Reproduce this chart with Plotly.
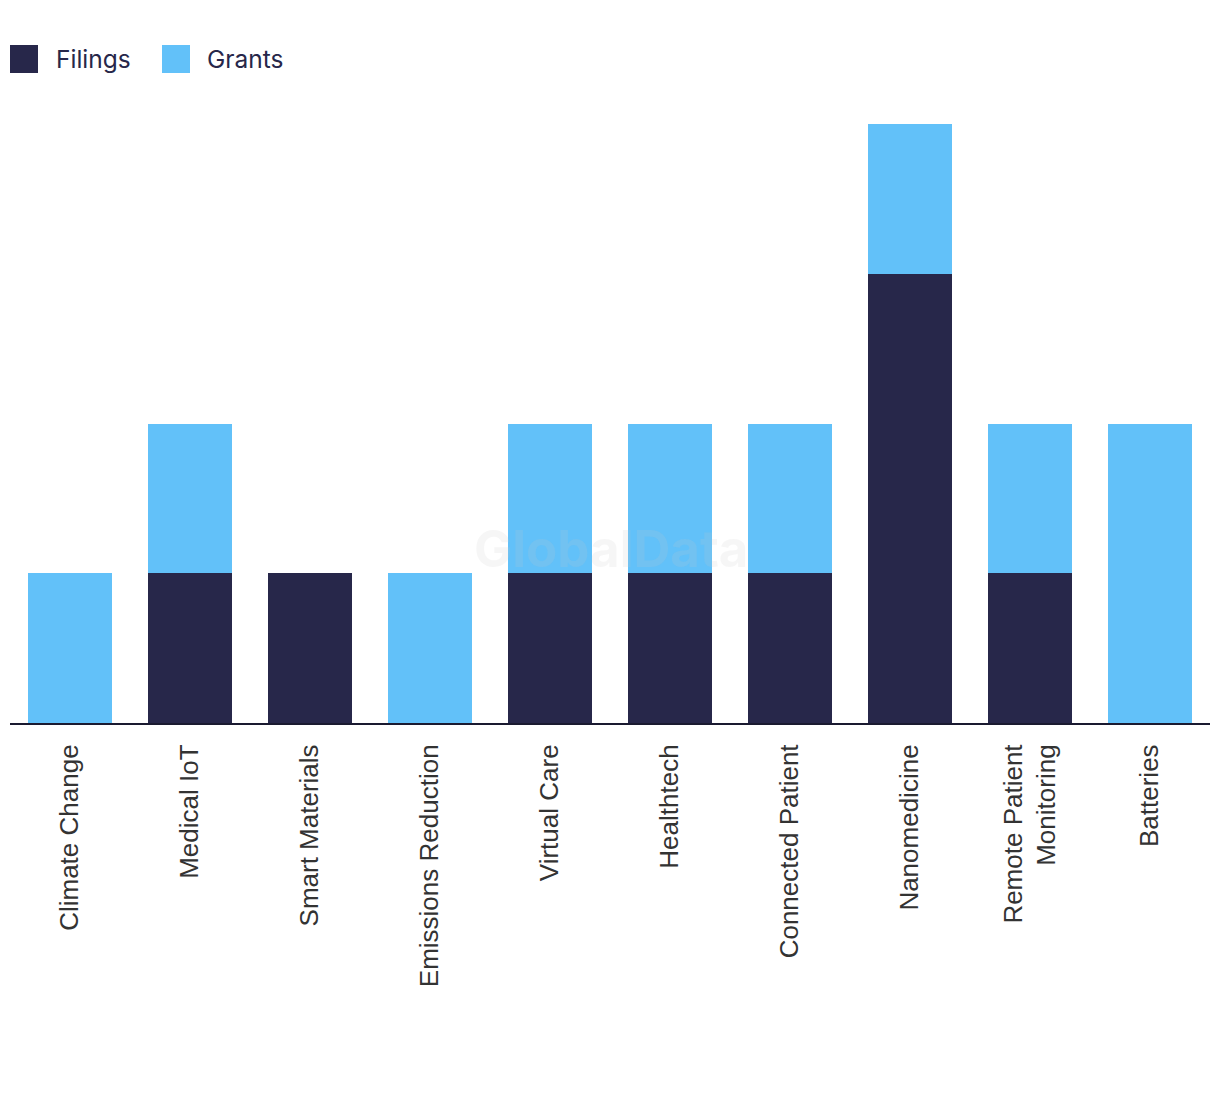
import plotly.graph_objects as go

categories = ["Climate Change", "Medical IoT", "Smart Materials", "Emissions Reduction",
              "Virtual Care", "Healthtech", "Connected Patient", "Nanomedicine",
              "Remote Patient<br>Monitoring", "Batteries"]
filings = [0, 1, 1, 0, 1, 1, 1, 3, 1, 0]
grants = [1, 1, 0, 1, 1, 1, 1, 1, 1, 2]
series_names = ["Filings", "Grants"]

DARK = "#27274a"
LIGHT = "#62c1f9"
OFF = 8  # browser default body margin
W, H = 1204, 1078
ML, MR, MT, MB = 2, 2, 116, 363
PH = H - MT - MB

fig = go.Figure()
fig.add_trace(go.Bar(x=categories, y=filings, name=series_names[0], marker_color=DARK,
                     marker_line_width=0))
fig.add_trace(go.Bar(x=categories, y=grants, name=series_names[1], marker_color=LIGHT,
                     marker_line_width=0))

# page pixel -> paper coordinates
def py(pix):
    return (H - MB - (pix - OFF)) / PH

def px_(pix):
    return ((pix - OFF) - ML) / (W - ML - MR)

for (nm, col, x0, tx) in [(series_names[0], DARK, 10, 55), (series_names[1], LIGHT, 162, 206)]:
    fig.add_shape(type="rect", xref="paper", yref="paper",
                  x0=px_(x0), x1=px_(x0 + 28), y0=py(73), y1=py(45),
                  fillcolor=col, line_width=0)
    fig.add_annotation(text=nm, xref="paper", yref="paper", x=px_(tx - 1), y=py(59),
                       xanchor="left", yanchor="middle", showarrow=False,
                       font=dict(family="Inter", size=24.5, color="#27274a"))

fig.add_annotation(text="<b>GlobalData</b>", x=px_(611), y=py(548), xref="paper", yref="paper",
                   xanchor="center", yanchor="middle",
                   showarrow=False, font=dict(family="Inter", size=51, color="rgba(200,200,200,0.16)"))

fig.update_layout(
    width=W, height=H,
    barmode="stack", bargap=0.3,
    margin=dict(l=ML, r=MR, t=MT, b=MB, autoexpand=False),
    paper_bgcolor="white", plot_bgcolor="white",
    showlegend=False,
    xaxis=dict(showline=True, linecolor="#1a1a30", linewidth=2, tickangle=-90,
               ticks="", ticklabelstandoff=9, automargin=False,
               tickfont=dict(family="Liberation Sans", size=26, color="#333333"),
               showgrid=False),
    yaxis=dict(range=[0, 4], visible=False, showgrid=False, automargin=False),
)

fig.write_html("out.html")
